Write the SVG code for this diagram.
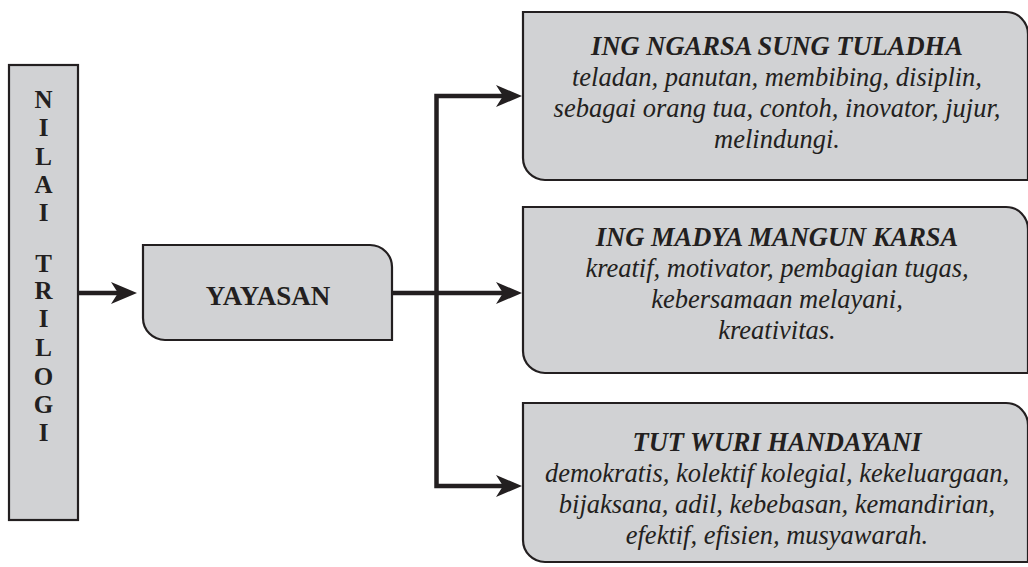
<svg xmlns="http://www.w3.org/2000/svg" width="1028" height="567" viewBox="0 0 1028 567">
<style>
.box{fill:#d1d2d4;stroke:#231f20;stroke-width:2.2}
.con{fill:none;stroke:#231f20;stroke-width:4.5;stroke-linejoin:miter}
.v{font-family:"Liberation Serif","Times New Roman",serif;font-weight:bold;font-size:25px;fill:#231f20;text-anchor:middle}
.y{font-family:"Liberation Serif","Times New Roman",serif;font-weight:bold;font-size:27px;fill:#231f20;text-anchor:middle}
.t{font-family:"Liberation Serif","Times New Roman",serif;font-weight:bold;font-style:italic;font-size:26.5px;fill:#231f20;text-anchor:middle}
.b{font-family:"Liberation Serif","Times New Roman",serif;font-style:italic;font-size:26.5px;fill:#231f20;text-anchor:middle}
</style>
<defs>
<marker id="ah" markerWidth="28" markerHeight="24" refX="7" refY="12" orient="auto-start-reverse" markerUnits="userSpaceOnUse">
<path d="M0,1 L26,12 L0,23 L7,12 Z" fill="#231f20"/>
</marker>
</defs>
<g id="nilai-trilogi">
<rect class="box" x="9" y="65" width="69" height="455"/>
<text class="v" x="43.5" y="108">N</text>
<text class="v" x="43.5" y="136">I</text>
<text class="v" x="43.5" y="165">L</text>
<text class="v" x="43.5" y="193">A</text>
<text class="v" x="43.5" y="221">I</text>
<text class="v" x="43.5" y="272">T</text>
<text class="v" x="43.5" y="299">R</text>
<text class="v" x="43.5" y="327">I</text>
<text class="v" x="43.5" y="356">L</text>
<text class="v" x="43.5" y="385">O</text>
<text class="v" x="43.5" y="413">G</text>
<text class="v" x="43.5" y="441">I</text>
</g>
<g id="yayasan">
<path class="box" d="M143,245 H370 A22,22 0 0 1 392,267 V340 H165 A22,22 0 0 1 143,318 Z"/>
<text class="y" x="268" y="305">YAYASAN</text>
</g>
<g id="ing-ngarsa">
<path class="box" d="M523,12 H1006 A22,22 0 0 1 1028,34 V180 H545 A22,22 0 0 1 523,158 Z"/>
<text class="t" x="777" y="55">ING NGARSA SUNG TULADHA</text>
<text class="b" x="777" y="86">teladan, panutan, membibing, disiplin,</text>
<text class="b" x="777" y="117">sebagai orang tua, contoh, inovator, jujur,</text>
<text class="b" x="777" y="148">melindungi.</text>
</g>
<g id="ing-madya">
<path class="box" d="M523,207 H1006 A22,22 0 0 1 1028,229 V373 H545 A22,22 0 0 1 523,351 Z"/>
<text class="t" x="777" y="246">ING MADYA MANGUN KARSA</text>
<text class="b" x="777" y="277">kreatif, motivator, pembagian tugas,</text>
<text class="b" x="777" y="308">kebersamaan melayani,</text>
<text class="b" x="777" y="339">kreativitas.</text>
</g>
<g id="tut-wuri">
<path class="box" d="M523,403 H1006 A22,22 0 0 1 1028,425 V562 H545 A22,22 0 0 1 523,540 Z"/>
<text class="t" x="777" y="451">TUT WURI HANDAYANI</text>
<text class="b" x="777" y="482">demokratis, kolektif kolegial, kekeluargaan,</text>
<text class="b" x="777" y="513">bijaksana, adil, kebebasan, kemandirian,</text>
<text class="b" x="777" y="544">efektif, efisien, musyawarah.</text>
</g>
<g id="connectors">
<path class="con" d="M78,293 H118" marker-end="url(#ah)"/>
<path class="con" d="M392,293 H503" marker-end="url(#ah)"/>
<path class="con" d="M503,96 H436.5 V486 H503" marker-start="url(#ah)" marker-end="url(#ah)"/>
</g>
</svg>
